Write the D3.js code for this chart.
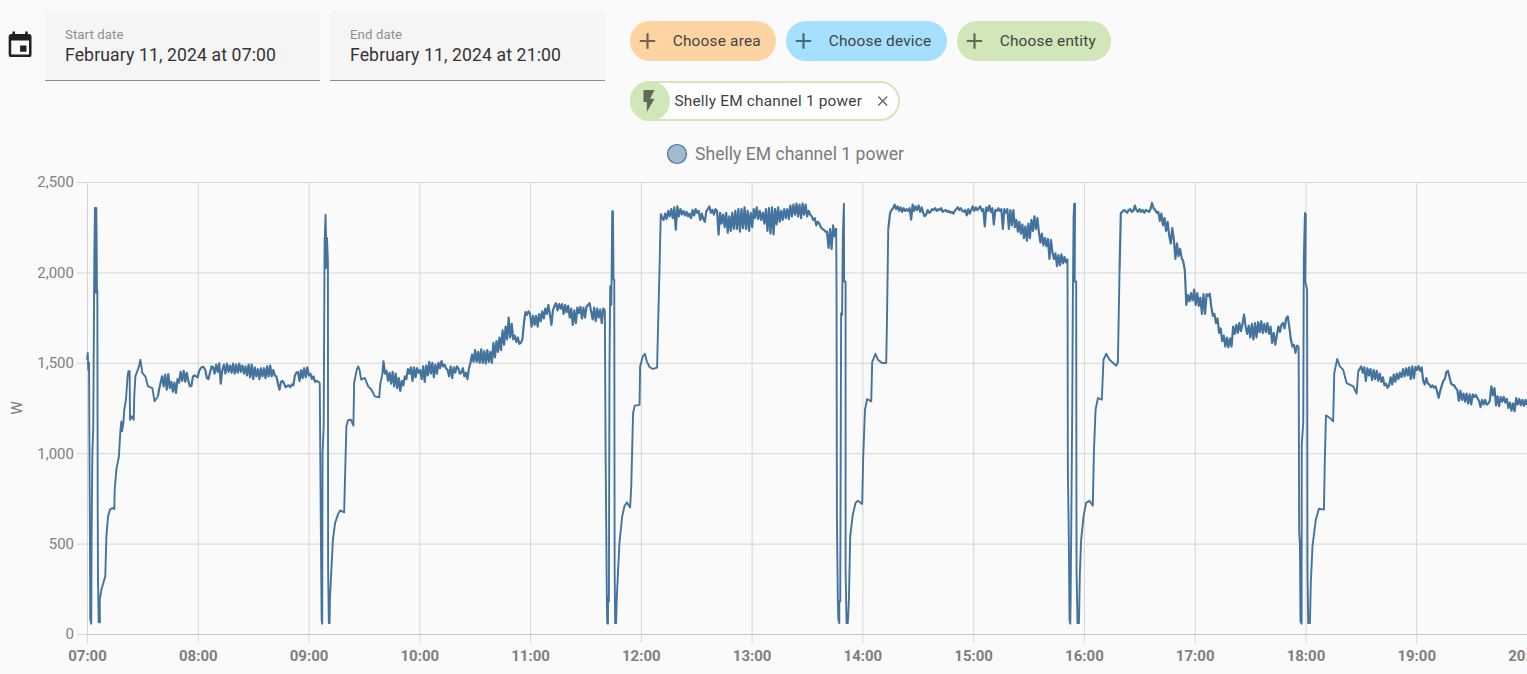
<!DOCTYPE html>
<html><head><meta charset="utf-8">
<script src="https://d3js.org/d3.v7.min.js"></script>
<style>
html,body{margin:0;padding:0;background:#fafafa;overflow:hidden}
svg{display:block;font-family:Roboto,sans-serif}
</style></head><body>
<script>
// ---------- labels ----------
const seriesName = "Shelly EM channel 1 power";
const unitLabel = "W";
const dateFields = [["Start date","February 11, 2024 at 07:00"],["End date","February 11, 2024 at 21:00"]];
const pickerChips = [["Choose area","#ffd4a3"],["Choose device","#a6e0ff"],["Choose entity","#d2e7b9"]];
const yTicks = [0,500,1000,1500,2000,2500];

// ---------- measurements: [minutes after 07:00, watts] for fast transitions ----------
const surge1 = [[0,1517],[.4,1554],[.7,1462],[1.1,1500],[1.3,1093],[1.6,503],[1.8,79],[2.3,57],[2.5,540],[2.9,1000],[3.4,1148],[3.8,1830],[4,2107],[4.3,2356],[4.5,2356],[4.9,1886],[5.05,2356],[5.2,2200],[5.4,1904],[5.6,1904],[5.8,725],[5.96,319],[6.3,65],[7,65],[6.9,190],[7.8,245],[9.9,319],[10.5,540],[11.4,651],[12.5,688],[13.7,697],[14.8,691],[15,798],[15.9,909],[17.3,983],[18,1112],[18.6,1176],[19,1121],[19.7,1167],[20.2,1241],[21.1,1296],[22,1425],[22.4,1453],[23.1,1453],[23.3,1185],[24.2,1204],[25.3,1185],[25.6,1314],[26.2,1425],[28.2,1480],[28.9,1517],[30,1443],[31.6,1425],[33,1370],[35.4,1360],[36.6,1287],[38.4,1314]];
const surge2 = [[126.1,1370],[126.7,540],[127.1,79],[127.4,57],[127.6,1000],[128.2,1148],[128.7,2163],[129.2,2319],[129.5,2190],[129.5,2024],[130,2190],[130.5,2061],[130.6,356],[131,60],[131.4,60],[131.6,200],[133.2,522],[134.4,614],[135.9,660],[137.1,684],[139.3,673],[139.6,798],[140.5,1148],[141.4,1182],[143,1185],[144.3,1152],[144.7,1388],[146.1,1462],[146.9,1480],[147.6,1462],[148.5,1407],[150.5,1416],[152.3,1370],[154.1,1351],[155.9,1314],[158.3,1309],[158.8,1379],[160.1,1443]];
const surge3 = [[280.9,1000],[281.3,540],[281.6,171],[281.8,60],[282.2,57],[282.2,208],[282.7,180],[283,1462],[283.4,1923],[284,1821],[284.1,1923],[284.5,2338],[284.9,2338],[285.2,1960],[285.6,1960],[285.8,356],[286.1,60],[286.6,60],[287,208],[288.4,503],[289.9,651],[291.1,706],[292.4,728],[294.2,700],[294.8,817],[295.8,1222],[296.7,1263],[299.3,1267],[299.6,1480],[301.1,1536],[302.2,1550],[303.2,1508],[304.7,1477],[306.5,1466],[308.8,1473],[309.2,1646],[310.1,2015],[310.8,2325]];
const surge4 = [[406,1900],[406.2,651],[406.7,190],[407,79],[407.5,60],[407.5,180],[408,180],[408.5,1775],[409,1765],[409.4,2200],[410,2380],[410.1,1950],[410.9,1950],[410.9,356],[411.4,60],[412.1,60],[412.7,190],[413.4,540],[414.8,660],[416.3,725],[417.6,737],[419.9,719],[420.4,964],[421.4,1241],[422.6,1300],[424.8,1287],[425.3,1503],[426.2,1527],[427.1,1550],[428.4,1517],[430.7,1499],[432.9,1499],[433.3,1720],[434,2236]];
const surge5 = [[531.3,909],[531.8,540],[532.2,79],[532.6,57],[532.8,190],[533.7,1278],[534,1858],[534.4,2301],[534.7,2380],[535.2,2380],[535,1950],[535.8,1950],[536,356],[536.5,60],[537.3,60],[537.8,337],[538.5,522],[539.8,651],[541.2,725],[543,737],[544.8,710],[545.4,1000],[546.3,1241],[547.6,1305],[549.7,1296],[550.6,1517],[552.1,1550],[553.9,1517],[557.5,1484],[558.4,1503],[559.3,2015]];
const surge6 = [[656.6,559],[657,500],[657.3,70],[657.9,57],[658,1050],[658.8,1167],[659.1,2070],[659.7,2329],[660.2,2320],[659.9,1950],[660.9,1904],[661.1,337],[661.5,60],[662.4,60],[662.9,282],[663.8,485],[665.6,632],[667.3,693],[670,688],[670.5,964],[671.1,1209],[673.2,1195],[675,1176],[675.6,1443],[677.2,1521],[678.6,1480],[680.4,1462],[682.3,1388],[685.9,1370],[687.7,1329],[688.6,1453]];

// ---------- measurements: watts read at even spacing over the plateaus ----------
const plateauA = [1351,1388,1425,1370,1435,1352,1438,1360,1395,1340,1390,1333,
1410,1390,1450,1400,1455,1395,1445,1400,1370,1372,1425,1430,
1425,1420,1455,1470,1478,1475,1460,1415,1410,1445,1480,1475,
1440,1490,1450,1497,1385,1460,1490,1440,1495,1450,1485,1445,
1495,1440,1490,1445,1495,1450,1485,1440,1480,1430,1490,1420,
1490,1410,1475,1425,1465,1410,1470,1425,1470,1415,1480,1425,
1485,1425,1460,1430,1425,1385,1351,1395,1400,1385,1365,1372,
1375,1365,1380,1375,1430,1445,1450,1400,1460,1415,1470,1420,
1475,1430,1440,1410,1425,1395,1400,1395,1392];
const plateauB = [1508,1440,1455,1400,1445,1385,1450,1370,1440,1360,1415,1345,
1400,1375,1425,1410,1465,1440,1475,1400,1475,1420,1470,1445,
1460,1410,1480,1395,1485,1430,1505,1440,1500,1420,1490,1440,
1500,1470,1510,1480,1490,1470,1460,1425,1480,1415,1475,1445,
1480,1470,1440,1445,1470,1425,1445,1410,1470,1500,1545,1505,
1570,1505,1560,1500,1575,1500,1565,1495,1570,1505,1560,1500,
1610,1530,1620,1560,1640,1570,1680,1600,1700,1630,1750,1640,
1715,1630,1650,1615,1640,1605,1610,1630,1720,1780,1765,1785,
1770,1700,1760,1710,1760,1700,1770,1730,1785,1745,1800,1770,
1820,1770,1710,1790,1815,1830,1790,1825,1800,1825,1770,1820,
1780,1815,1750,1800,1710,1790,1720,1805,1775,1810,1745,1805,
1750,1810,1820,1830,1785,1740,1805,1730,1800,1750,1795,1720,1800,1790];
const plateauC = [2300,2290,2325,2295,2340,2310,2350,2300,2360,2236,2365,2310,
2350,2320,2340,2315,2335,2310,2325,2300,2345,2315,2350,2330,
2340,2290,2325,2295,2280,2340,2350,2365,2330,2345,2320,2350,
2340,2209,2330,2270,2320,2250,2330,2220,2310,2230,2330,2240,
2340,2240,2350,2225,2350,2245,2360,2240,2340,2230,2330,2250,
2350,2300,2360,2295,2340,2290,2330,2270,2350,2230,2355,2215,
2360,2210,2350,2265,2360,2280,2340,2290,2350,2300,2350,2295,
2370,2310,2375,2320,2380,2310,2375,2300,2380,2320,2375,2310,
2340,2320,2310,2290,2300,2260,2280,2270,2250,2240,2235,2225,
2225,2135,2240,2130,2260,2200,2245];
const plateauD = [2329,2345,2355,2375,2350,2365,2340,2360,2335,2355,2340,2350,
2340,2355,2292,2375,2340,2365,2345,2370,2335,2360,2330,2310,
2320,2345,2330,2335,2350,2345,2355,2340,2350,2345,2355,2335,
2340,2345,2335,2340,2330,2335,2325,2340,2350,2360,2345,2355,
2340,2335,2345,2315,2350,2325,2345,2365,2340,2360,2345,2355,
2365,2340,2350,2255,2360,2340,2370,2335,2355,2265,2345,2340,
2355,2340,2350,2240,2350,2330,2350,2240,2345,2260,2345,2250,
2290,2225,2280,2215,2265,2190,2255,2175,2270,2190,2290,2230,
2310,2240,2300,2220,2165,2215,2150,2190,2145,2185,2075,2180,
2110,2075,2105,2035,2095,2040,2100,2050,2085,2055,2075];
const plateauE = [2329,2335,2345,2340,2330,2345,2350,2335,2340,2370,2345,2335,
2350,2335,2345,2330,2345,2340,2335,2350,2384,2355,2345,2330,
2335,2285,2325,2260,2300,2230,2280,2205,2160,2245,2180,2075,
2160,2090,2130,2080,2060,2015,1820,1875,1840,1885,1845,1905,
1820,1885,1815,1860,1770,1880,1770,1880,1870,1882,1810,1760,
1770,1720,1745,1665,1690,1620,1650,1590,1640,1585,1635,1590,
1700,1660,1710,1665,1720,1675,1715,1766,1700,1660,1705,1640,
1715,1630,1720,1640,1725,1670,1730,1665,1715,1670,1720,1660,
1700,1610,1665,1600,1650,1700,1670,1711,1720,1690,1745,1757,
1700,1630,1590,1600,1555,1595,1590];
const plateauF = [1480,1445,1475,1400,1470,1430,1465,1405,1460,1410,1455,1400,
1440,1395,1420,1375,1385,1362,1375,1420,1380,1435,1395,1440,
1410,1445,1420,1465,1425,1470,1430,1475,1410,1480,1415,1478,
1460,1482,1455,1475,1400,1380,1415,1385,1380,1365,1375,1362,
1370,1340,1306,1345,1375,1400,1410,1450,1455,1420,1385,1378,
1375,1360,1350,1290,1345,1295,1330,1285,1330,1275,1325,1270,
1325,1310,1322,1305,1290,1255,1295,1270,1295,1268,1275,1290,
1370,1320,1360,1265,1315,1260,1310,1285,1312,1280,1300,1250,
1280,1235,1275,1232,1305,1270,1300,1265,1295,1262,1295,1265];

const even = (vals,a,b)=>vals.map((w,i)=>[a+i*(b-a)/(vals.length-1),w]);
const surges = [surge1,surge2,surge3,surge4,surge5,surge6];
const plateaus = [even(plateauA,39,126),even(plateauB,160.6,280.5),even(plateauC,311.5,405.8),
  even(plateauD,435,531.1),even(plateauE,560,656.3),even(plateauF,690.2,780)];

// ---------- page ----------
const pageW=1527,pageH=674, plotL=87, plotR=1527, plotT=182, plotB=634;
const svg=d3.select("body").append("svg").attr("width",pageW).attr("height",pageH);
const t0=new Date(2024,1,11,7), t1=new Date(2024,1,11,20);
const x=d3.scaleTime().domain([t0,t1]).range([plotL,plotR]);
const y=d3.scaleLinear().domain([0,2500]).range([plotB,plotT]);
const icon={plus:"M19,13H13V19H11V13H5V11H11V5H13V11H19V13Z",flash:"M7,2V13H10V22L17,10H13L17,2H7Z",
 cal:"M19,19H5V8H19M16,1V3H8V1H6V3H5C3.89,3 3,3.89 3,5V19A2,2 0 0,0 5,21H19A2,2 0 0,0 21,19V5C21,3.89 20.1,3 19,3H18V1M17,12H12V17H17V12Z",
 close:"M19,6.41L17.59,5L12,10.59L6.41,5L5,6.41L10.59,12L5,17.59L6.41,19L12,13.41L17.59,19L19,17.59L13.41,12L19,6.41Z"};
const place=(d,cx,cy,s,fill)=>svg.append("path").attr("d",d).attr("fill",fill)
  .attr("transform",`translate(${cx-12*s},${cy-12*s}) scale(${s})`);

place(icon.cal,20.1,45.5,1.27,"#212121");
dateFields.forEach(([lab,val],i)=>{
  const fx=45+285*i, fw=275;
  svg.append("path").attr("d",`M${fx},81V15a4,4 0 0 1 4,-4H${fx+fw-4}a4,4 0 0 1 4,4V81Z`).attr("fill","#f5f5f5");
  svg.append("rect").attr("x",fx).attr("y",80).attr("width",fw).attr("height",1).attr("fill","#8c8c8c");
  svg.append("text").attr("x",fx+20).attr("y",38.5).attr("font-size",13.2).attr("letter-spacing",.1).attr("fill","#8f8f8f").text(lab);
  svg.append("text").attr("x",fx+20).attr("y",61).attr("font-size",17.6).attr("letter-spacing",.125).attr("fill","#333").text(val);
});
const chipX=[[630,776],[786,947],[957,1111]];
pickerChips.forEach(([lab,col],i)=>{
  const [a,b]=chipX[i];
  svg.append("rect").attr("x",a).attr("y",21).attr("width",b-a).attr("height",40).attr("rx",20).attr("fill",col);
  place(icon.plus,a+17.5,41,1.1,"#000").attr("fill-opacity",.54);
  svg.append("text").attr("x",a+42.7).attr("y",46).attr("font-size",15.4).attr("letter-spacing",.2).attr("fill","#434343").text(lab);
});
svg.append("rect").attr("x",631).attr("y",82).attr("width",268).attr("height",38).attr("rx",19).attr("fill","#fff").attr("stroke","#d2e7b9").attr("stroke-width",2);
svg.append("circle").attr("cx",650).attr("cy",101).attr("r",20).attr("fill","#d2e7b9");
place(icon.flash,649,101,1.1,"#000").attr("fill-opacity",.54);
svg.append("text").attr("x",674.5).attr("y",106).attr("font-size",15.4).attr("letter-spacing",.19).attr("fill","#3f3f3f").text(seriesName);
place(icon.close,882.7,101,.7,"#666");

svg.append("circle").attr("cx",677).attr("cy",154).attr("r",9.5).attr("fill","#a2b9d0").attr("stroke","#44739e").attr("stroke-width",1.2);
svg.append("text").attr("x",695).attr("y",159.5).attr("font-size",17.6).attr("fill","#7b7b7b").text(seriesName);

// ---------- axes and grid ----------
const gridCol="#d6d6d6", axisText="#7f7f7f";
const gy=svg.append("g").attr("transform",`translate(${plotL},0)`)
  .call(d3.axisLeft(y).tickValues(yTicks).tickFormat(d3.format(",")).tickSize(10).tickPadding(3));
gy.select(".domain").attr("stroke",gridCol);
gy.selectAll("line").attr("stroke",gridCol);
gy.selectAll("text").attr("font-size",15).attr("font-family","Roboto").attr("fill",axisText);
const hGrid=svg.append("g").attr("transform",`translate(${plotL},0)`)
  .call(d3.axisLeft(y).tickValues(yTicks).tickFormat("").tickSize(-(plotR-plotL)));
hGrid.select(".domain").remove();
hGrid.selectAll("line").attr("stroke",gridCol);

const gx=svg.append("g").attr("transform",`translate(0,${plotB})`)
  .call(d3.axisBottom(x).ticks(d3.timeHour.every(1)).tickFormat(d3.timeFormat("%H:%M")).tickSizeInner(9).tickSizeOuter(0).tickPadding(7));
gx.select(".domain").attr("stroke","#c6c6c6");
gx.selectAll("line").attr("stroke",gridCol);
gx.selectAll("text").attr("font-size",15).attr("font-weight",700).attr("font-family","Roboto").attr("fill",axisText);
const vGrid=svg.append("g").attr("transform",`translate(0,${plotB})`)
  .call(d3.axisBottom(x).ticks(d3.timeHour.every(1)).tickFormat("").tickSize(-(plotB-plotT)));
vGrid.select(".domain").remove();
vGrid.selectAll("line").attr("stroke",gridCol);

svg.append("text").attr("transform","translate(22,408) rotate(-90)").attr("text-anchor","middle")
  .attr("font-size",15.4).attr("fill",axisText).text(unitLabel);

// ---------- the series ----------
const powerLine=d3.line().x(d=>x(new Date(+t0+d[0]*60000))).y(d=>y(d[1]));
const drawPart=(pts,width)=>svg.append("path").datum(pts).attr("d",powerLine).attr("fill","none")
  .attr("stroke","#44739e").attr("stroke-width",width).attr("stroke-linejoin","round");
surges.forEach((s,i)=>{
  const prev=i?plateaus[i-1]:[];
  drawPart(prev.length?[prev[prev.length-1],...s]:s,1.9);
  drawPart([s[s.length-1],...plateaus[i]],2.2);
});
</script></body></html>
